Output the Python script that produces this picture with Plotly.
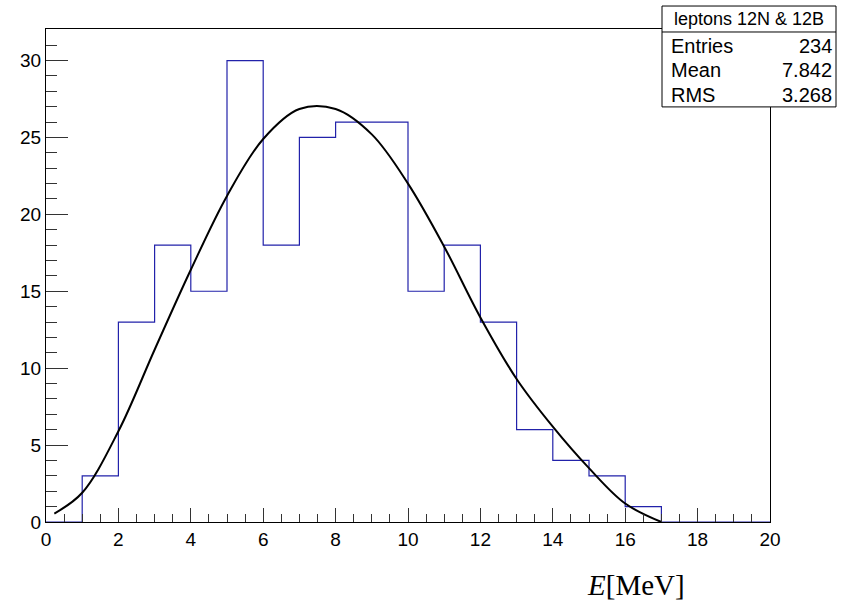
import plotly.graph_objects as go

# Histogram data (bin edges 0..20, width 1)
bin_edges = list(range(0, 21))
counts = [0, 3, 13, 18, 15, 30, 18, 25, 26, 26, 15, 18, 13, 6, 4, 3, 1, 0, 0, 0]

# Fit curve
fit_x = [0.23, 1.0, 2.0, 3.0, 4.0, 5.0, 6.0, 7.0, 8.0, 9.0, 10.0, 11.0, 12.0, 13.0, 14.0, 15.0, 16.0, 17.0]
fit_y = [0.55, 1.9, 5.9, 11.2, 16.4, 21.2, 24.9, 26.85, 26.85, 25.2, 22.0, 17.9, 13.3, 9.3, 6.2, 3.5, 1.2, 0.0]

stats_title = "leptons 12N & 12B"
stats_labels = ["Entries", "Mean", "RMS"]
stats_values = ["234", "7.842", "3.268"]

x_tick_vals = [0, 2, 4, 6, 8, 10, 12, 14, 16, 18, 20]
y_tick_vals = [0, 5, 10, 15, 20, 25, 30]

fig = go.Figure()

fig.add_trace(go.Scatter(
    x=bin_edges, y=counts + [counts[-1]],
    mode="lines", line=dict(shape="hv", color="#2222aa", width=1.2),
    hoverinfo="skip", showlegend=False))

fig.add_trace(go.Scatter(
    x=fit_x, y=fit_y, mode="lines",
    line=dict(shape="spline", smoothing=1.0, color="black", width=2),
    showlegend=False))

L, R, T, B = 46, 76, 29, 87.5
W, H = 846, 610
pw, ph = W - L - R, H - T - B

def px(x):
    return (x - L) / pw

def py(y):
    return (H - B - y) / ph

font = "Liberation Sans, Arial, sans-serif"

fig.update_layout(
    width=W, height=H,
    margin=dict(l=L, r=R, t=T, b=B, pad=0),
    paper_bgcolor="white", plot_bgcolor="white",
    font=dict(family=font, size=19, color="black"),
    xaxis=dict(range=[0, 20], tickvals=x_tick_vals, ticks="inside", ticklen=14,
               tickcolor="#333", tickwidth=1, showgrid=False, zeroline=False,
               showline=True, linecolor="black", linewidth=1, mirror=True,
               tickfont=dict(size=19),
               minor=dict(dtick=0.5, ticks="inside", ticklen=8, tickcolor="#333", showgrid=False)),
    yaxis=dict(range=[0, 32.05], tickvals=y_tick_vals, ticks="inside", ticklen=22,
               tickcolor="#333", tickwidth=1, showgrid=False, zeroline=False,
               showline=True, linecolor="black", linewidth=1, mirror=True,
               tickfont=dict(size=19),
               minor=dict(dtick=1, ticks="inside", ticklen=11, tickcolor="#333", showgrid=False)),
)

# Stats box
bx0, bx1 = px(662), px(836)
by_top, by_div, by_bot = py(6), py(32), py(107)
fig.add_shape(type="rect", xref="paper", yref="paper", x0=bx0, x1=bx1, y0=by_bot, y1=by_top,
              line=dict(color="black", width=1), fillcolor="white", layer="above")
fig.add_shape(type="line", xref="paper", yref="paper", x0=bx0, x1=bx1, y0=by_div, y1=by_div,
              line=dict(color="black", width=1), layer="above")
fig.add_annotation(xref="paper", yref="paper", x=(bx0 + bx1) / 2, y=py(19), text=stats_title,
                   showarrow=False, xanchor="center", yanchor="middle", font=dict(size=18))
row_y = [46.5, 70.5, 95]
for lab, val, ry in zip(stats_labels, stats_values, row_y):
    fig.add_annotation(xref="paper", yref="paper", x=px(669), y=py(ry), text=lab,
                       showarrow=False, xanchor="left", yanchor="middle", font=dict(size=20))
    fig.add_annotation(xref="paper", yref="paper", x=px(834), y=py(ry), text=val,
                       showarrow=False, xanchor="right", yanchor="middle", font=dict(size=20))

# x-axis label
fig.add_annotation(xref="paper", yref="paper", x=px(585), y=py(586), text="<i>E</i>[MeV]",
                   showarrow=False, xanchor="left", yanchor="middle",
                   font=dict(family="Liberation Serif, DejaVu Serif, serif", size=29))

fig.write_html("out.html")
